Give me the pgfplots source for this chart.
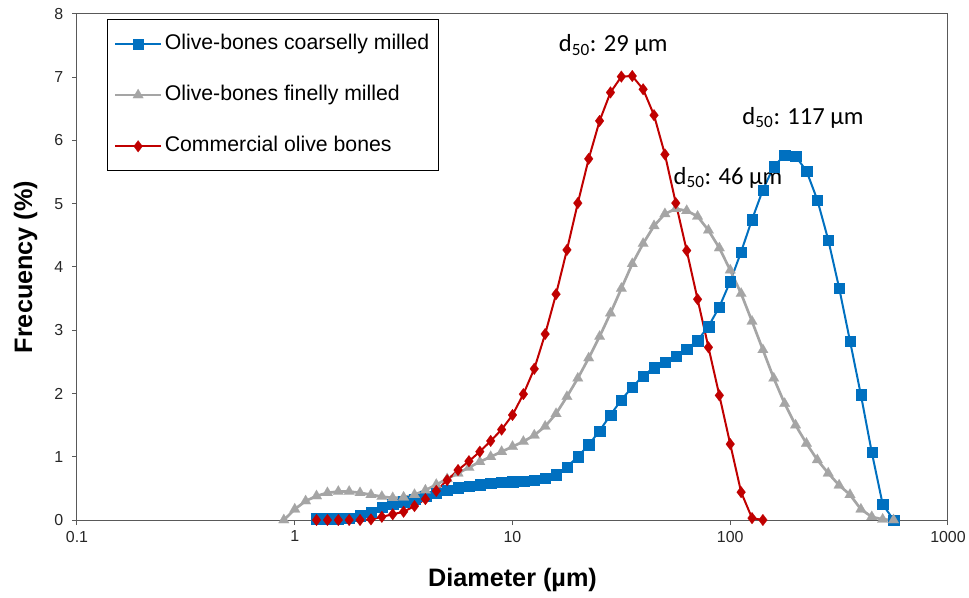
\documentclass[border=0pt]{standalone}
\usepackage{pgfplots}
\pgfplotsset{compat=1.18}
\usepackage{fontspec}
\setmainfont{Liberation Sans}
\newfontfamily\calibri{Carlito}
\definecolor{cblue}{HTML}{0070C0}
\definecolor{cgray}{HTML}{A5A5A5}
\definecolor{cred}{HTML}{C00000}
\definecolor{axline}{HTML}{595959}

\begin{document}
\begin{tikzpicture}
\begin{axis}[
    scale only axis,
    width=653.25bp, height=379.5bp,
    xmode=log,
    xmin=0.1, xmax=1000,
    ymin=0, ymax=8,
    xtick={0.1,1,10,100,1000},
    xticklabels={0.1,1,10,100,1000},
    ytick={0,1,...,8},
    xminorticks=false,
    xtick pos=bottom, ytick pos=left,
    tick align=outside,
    major tick length=3.75bp,
    tick style={axline, line width=0.75bp},
    axis line style={axline, line width=0.75bp},
    /pgf/number format/assume math mode=true,
    ticklabel style={font=\fontsize{12}{14}\selectfont, text=black!85},
    yticklabel style={xshift=-3bp},
    xticklabel style={yshift=-1bp},
    xlabel={Diameter (µm)},
    ylabel={Frecuency (\%)},
    xlabel style={at={(axis description cs:0.5,-0.1186)}, anchor=center,
        font=\fontsize{19}{22}\selectfont\bfseries},
    ylabel style={at={(axis description cs:-0.059,0.5)}, anchor=center,
        font=\fontsize{19}{22}\selectfont\bfseries},
    clip=false,
    legend style={at={(axis description cs:0.0344,0.990)}, anchor=north west,
        draw=black, line width=0.75bp, fill=white,
        font=\fontsize{16}{18}\selectfont,
        inner xsep=5bp, inner ysep=9bp, row sep=19.9bp,
        nodes={inner sep=2bp, text height=11.5bp, text depth=3bp}},
    legend cell align=left,
    legend image code/.code={%
        \draw[mark repeat=2,mark phase=2,#1]
        plot coordinates {(0bp,0bp) (17bp,0bp) (34bp,0bp)};},
]

% Olive-bones coarselly milled
\addplot[cblue, line width=1.5bp, mark=square*, mark size=3.9bp,
    mark options={solid, fill=cblue, draw=cblue, line width=0.1bp}] coordinates {
(1.259,0.02) (1.413,0.02) (1.585,0.02) (1.778,0.03) (1.995,0.07)
(2.239,0.13) (2.512,0.20) (2.818,0.25) (3.162,0.29) (3.548,0.33)
(3.981,0.38) (4.467,0.43) (5.012,0.47) (5.623,0.51) (6.310,0.54)
(7.079,0.56) (7.943,0.58) (8.913,0.60) (10.000,0.61) (11.220,0.62)
(12.589,0.63) (14.125,0.66) (15.849,0.72) (17.783,0.84) (19.953,1.00)
(22.387,1.19) (25.119,1.41) (28.184,1.66) (31.623,1.90) (35.481,2.10)
(39.811,2.28) (44.668,2.41) (50.119,2.50) (56.234,2.59) (63.096,2.70)
(70.795,2.84) (79.433,3.06) (89.125,3.37) (100.000,3.77) (112.202,4.24)
(125.893,4.75) (141.254,5.22) (158.489,5.59) (177.828,5.77) (199.526,5.75)
(223.872,5.52) (251.189,5.06) (281.838,4.43) (316.228,3.67) (354.813,2.83)
(398.107,1.98) (446.684,1.07) (501.187,0.25) (562.341,0.00)
};
\addlegendentry{Olive-bones coarselly milled}

% Olive-bones finelly milled
\addplot[cgray, line width=2bp, mark=triangle*, mark size=4.6bp,
    mark options={solid, fill=cgray, draw=cgray, line width=0.1bp}] coordinates {
(0.891,0.00) (1.000,0.17) (1.122,0.30) (1.259,0.38) (1.413,0.43)
(1.585,0.45) (1.778,0.45) (1.995,0.43) (2.239,0.40) (2.512,0.37)
(2.818,0.35) (3.162,0.36) (3.548,0.40) (3.981,0.47) (4.467,0.56)
(5.012,0.65) (5.623,0.74) (6.310,0.83) (7.079,0.92) (7.943,1.00)
(8.913,1.08) (10.000,1.16) (11.220,1.24) (12.589,1.34) (14.125,1.48)
(15.849,1.68) (17.783,1.95) (19.953,2.24) (22.387,2.56) (25.119,2.90)
(28.184,3.27) (31.623,3.66) (35.481,4.05) (39.811,4.37) (44.668,4.65)
(50.119,4.84) (56.234,4.92) (63.096,4.89) (70.795,4.80) (79.433,4.58)
(89.125,4.30) (100.000,3.95) (112.202,3.58) (125.893,3.14) (141.254,2.69)
(158.489,2.24) (177.828,1.84) (199.526,1.50) (223.872,1.21) (251.189,0.95)
(281.838,0.74) (316.228,0.55) (354.813,0.40) (398.107,0.17) (446.684,0.05)
(501.187,0.01) (562.341,0.00)
};
\addlegendentry{Olive-bones finelly milled}

% Commercial olive bones
\addplot[cred, line width=1.5bp, mark=diamond*, mark size=4.4bp,
    mark options={solid, fill=cred, draw=cred, line width=0.1bp}] coordinates {
(1.259,0.00) (1.413,0.00) (1.585,0.00) (1.778,0.00) (1.995,0.00)
(2.239,0.01) (2.512,0.05) (2.818,0.09) (3.162,0.13) (3.548,0.22)
(3.981,0.33) (4.467,0.46) (5.012,0.63) (5.623,0.79) (6.310,0.93)
(7.079,1.08) (7.943,1.25) (8.913,1.43) (10.000,1.66) (11.220,1.99)
(12.589,2.39) (14.125,2.94) (15.849,3.57) (17.783,4.27) (19.953,5.01)
(22.387,5.71) (25.119,6.31) (28.184,6.76) (31.623,7.01) (35.481,7.02)
(39.811,6.81) (44.668,6.40) (50.119,5.78) (56.234,5.01) (63.096,4.26)
(70.795,3.49) (79.433,2.73) (89.125,1.97) (100.000,1.20) (112.202,0.44)
(125.893,0.03) (141.254,0.00)
};
\addlegendentry{Commercial olive bones}

\node[anchor=base west, inner sep=0, font=\calibri\fontsize{18.5}{20}\selectfont]
    at (axis cs:16.3,7.40) {d\textsubscript{50}: 29 µm};
\node[anchor=base west, inner sep=0, font=\calibri\fontsize{18.5}{20}\selectfont]
    at (axis cs:54.8,5.31) {d\textsubscript{50}: 46 µm};
\node[anchor=base west, inner sep=0, font=\calibri\fontsize{18.5}{20}\selectfont]
    at (axis cs:113.5,6.26) {d\textsubscript{50}: 117 µm};
\end{axis}
\pgfresetboundingbox
\path (-57.75bp,-58.5bp) rectangle (669bp,390bp);
\end{tikzpicture}
\end{document}
